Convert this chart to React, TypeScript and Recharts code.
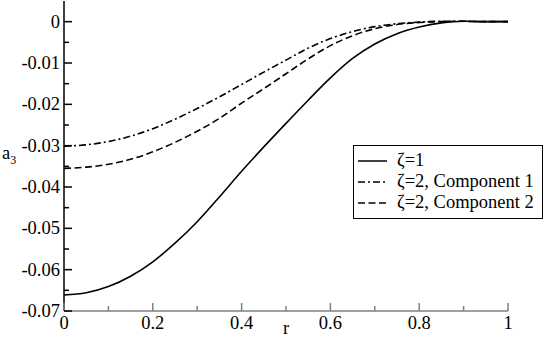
import { LineChart, Line, XAxis, YAxis, Legend } from "recharts";

const FONT = "Liberation Serif, serif";

// radial coordinate r
const rValues = [
  0, 0.05, 0.1, 0.15, 0.2, 0.25, 0.3, 0.35, 0.4, 0.45, 0.5, 0.55, 0.6, 0.65,
  0.7, 0.75, 0.8, 0.85, 0.9, 0.95, 1,
];

// a_3 for zeta = 1
const zeta1 = [
  -0.0661, -0.0656, -0.0641, -0.0616, -0.0581, -0.0536, -0.0484, -0.0424,
  -0.0362, -0.0303, -0.0246, -0.019, -0.0136, -0.0089, -0.0054, -0.0029,
  -0.0013, -0.0003, 0.0001, 0, 0,
];

// a_3 for zeta = 2, component 1
const zeta2c1 = [
  -0.0301, -0.0298, -0.029, -0.0277, -0.0259, -0.0236, -0.021, -0.0182,
  -0.0152, -0.0122, -0.0093, -0.0064, -0.0041, -0.0024, -0.0012, -0.0005,
  -0.0001, 0.0001, 0.0001, 0, 0,
];

// a_3 for zeta = 2, component 2
const zeta2c2 = [
  -0.0355, -0.0352, -0.0345, -0.0333, -0.0315, -0.0292, -0.0265, -0.0234,
  -0.0197, -0.0162, -0.0126, -0.009, -0.0058, -0.0034, -0.0017, -0.0007,
  -0.0002, 0, 0.0001, 0, 0,
];

const xTicks = [0, 0.1, 0.2, 0.3, 0.4, 0.5, 0.6, 0.7, 0.8, 0.9, 1];
const xTickLabels = ["0", "", "0.2", "", "0.4", "", "0.6", "", "0.8", "", "1"];

const yTicks = [
  -0.07, -0.065, -0.06, -0.055, -0.05, -0.045, -0.04, -0.035, -0.03, -0.025,
  -0.02, -0.015, -0.01, -0.005, 0,
];
const yTickLabels = [
  "-0.07", "", "-0.06", "", "-0.05", "", "-0.04", "", "-0.03", "", "-0.02",
  "", "-0.01", "", "0",
];

const series = [
  { key: "z1", name: "ζ=1", dash: undefined as string | undefined },
  { key: "z2c1", name: "ζ=2, Component 1", dash: "7 3 2 3" },
  { key: "z2c2", name: "ζ=2, Component 2", dash: "7 3.5" },
];

const data = rValues.map((r, i) => ({
  r,
  z1: zeta1[i],
  z2c1: zeta2c1[i],
  z2c2: zeta2c2[i],
}));

const textStyle = { fontFamily: FONT, fontSize: 18.5 };

const isMajor = (labels: string[], i: number) => labels[i] !== "";

function BottomTick(props: any) {
  const { x, y, index } = props;
  const major = isMajor(xTickLabels, index);
  return (
    <g>
      <line x1={x} x2={x} y1={y} y2={y - (major ? 8 : 5)} stroke="#808080" strokeWidth={1.5} />
      {major && (
        <text x={x} y={y + 18} textAnchor="middle" style={textStyle} fill="#000">
          {xTickLabels[index]}
        </text>
      )}
    </g>
  );
}

function TopTick(props: any) {
  const { x, y, index } = props;
  const major = isMajor(xTickLabels, index);
  return <line x1={x} x2={x} y1={y} y2={y + (major ? 8 : 5)} stroke="#000" strokeWidth={1.5} />;
}

function LeftTick(props: any) {
  const { x, y, index } = props;
  const major = isMajor(yTickLabels, index);
  return (
    <g>
      <line x1={x} x2={x + (major ? 8 : 5)} y1={y} y2={y} stroke="#000" strokeWidth={1.5} />
      {major && (
        <text x={x - 4} y={y + 6} textAnchor="end" style={textStyle} fill="#000">
          {yTickLabels[index]}
        </text>
      )}
    </g>
  );
}

function RightTick(props: any) {
  const { x, y, index } = props;
  const major = isMajor(yTickLabels, index);
  return <line x1={x} x2={x - (major ? 8 : 5)} y1={y} y2={y} stroke="#000" strokeWidth={1.5} />;
}

function LegendBox() {
  return (
    <div
      style={{
        width: 190,
        height: 74,
        boxSizing: "border-box",
        border: "1px solid #000",
        background: "#fff",
      }}
    >
      <svg width={188} height={72} style={{ display: "block" }}>
        {series.map((s, i) => (
          <g key={s.key}>
            <line
              x1={4}
              x2={33}
              y1={15 + i * 21}
              y2={15 + i * 21}
              stroke="#000"
              strokeWidth={1.5}
              strokeDasharray={s.dash}
            />
            <text x={43} y={20 + i * 21} style={textStyle} fill="#000">
              {s.name}
            </text>
          </g>
        ))}
      </svg>
    </div>
  );
}

export default function App() {
  return (
    <div
      style={{
        position: "absolute",
        left: 0,
        top: 0,
        width: 545,
        height: 343,
        background: "#fff",
        fontFamily: FONT,
      }}
    >
      <LineChart
        width={545}
        height={343}
        data={data}
        margin={{ top: 1, right: 37, bottom: 2, left: 4 }}
      >
        <XAxis
          xAxisId="top"
          orientation="top"
          dataKey="r"
          type="number"
          domain={[0, 1]}
          ticks={xTicks}
          interval={0}
          height={0}
          tickSize={0}
          tickMargin={0}
          tickLine={false}
          tick={<TopTick />}
          axisLine={{ stroke: "#000", strokeWidth: 1.5 }}
        />
        <XAxis
          dataKey="r"
          type="number"
          domain={[0, 1]}
          ticks={xTicks}
          interval={0}
          height={30}
          tickSize={0}
          tickMargin={0}
          tickLine={false}
          tick={<BottomTick />}
          axisLine={{ stroke: "#808080", strokeWidth: 1.5 }}
          label={{
            content: () => (
              <text x={286} y={334} textAnchor="middle" style={textStyle} fill="#000">
                r
              </text>
            ),
          }}
        />
        <YAxis
          yAxisId="right"
          orientation="right"
          type="number"
          domain={[-0.07, 0.005]}
          ticks={yTicks}
          interval={0}
          width={0}
          tickSize={0}
          tickMargin={0}
          tickLine={false}
          tick={<RightTick />}
          axisLine={{ stroke: "#000", strokeWidth: 1.5 }}
        />
        <YAxis
          type="number"
          domain={[-0.07, 0.005]}
          ticks={yTicks}
          interval={0}
          width={60}
          tickSize={0}
          tickMargin={0}
          tickLine={false}
          tick={<LeftTick />}
          axisLine={{ stroke: "#000", strokeWidth: 1.5 }}
          label={{
            content: () => (
              <text x={2} y={159} style={textStyle} fill="#000">
                a
                <tspan style={{ fontSize: 12 }} dy={5}>
                  3
                </tspan>
              </text>
            ),
          }}
        />
        {series.map((s) => (
          <Line
            key={s.key}
            dataKey={s.key}
            name={s.name}
            type="monotone"
            stroke="#000"
            strokeWidth={1.6}
            strokeDasharray={s.dash}
            dot={false}
            activeDot={false}
            isAnimationActive={false}
          />
        ))}
        <Legend
          layout="horizontal"
          verticalAlign="middle"
          align="center"
          wrapperStyle={{ left: 353, top: 145, width: 190, height: 74 }}
          content={() => <LegendBox />}
        />
      </LineChart>
    </div>
  );
}
